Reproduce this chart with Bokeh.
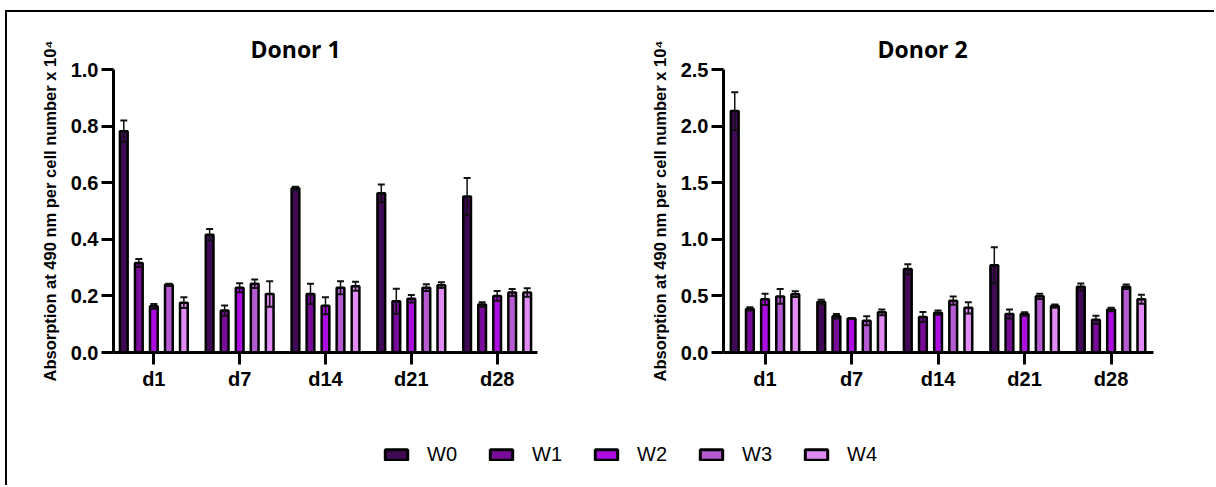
from bokeh.plotting import figure
from bokeh.models import (ColumnDataSource, Range1d, FixedTicker, Whisker, TeeHead,
                          Title, Legend, LegendItem)
from bokeh.layouts import column, row
from bokeh.embed import file_html
from bokeh.resources import INLINE

# ---------------- data ----------------
days = ["d1", "d7", "d14", "d21", "d28"]
weeks = ["W0", "W1", "W2", "W3", "W4"]
colors = ["#410a55", "#780c98", "#ad0de0", "#b65ad2", "#e08cf4"]

# Donor 1: mean per week over days
d1_W0 = [0.782, 0.416, 0.580, 0.563, 0.551]
d1_W1 = [0.316, 0.148, 0.207, 0.181, 0.170]
d1_W2 = [0.163, 0.229, 0.165, 0.190, 0.200]
d1_W3 = [0.239, 0.243, 0.229, 0.229, 0.212]
d1_W4 = [0.176, 0.207, 0.234, 0.238, 0.212]
d1_E0 = [0.038, 0.020, 0.006, 0.031, 0.066]
d1_E1 = [0.014, 0.018, 0.036, 0.044, 0.008]
d1_E2 = [0.008, 0.016, 0.030, 0.013, 0.017]
d1_E3 = [0.004, 0.015, 0.023, 0.012, 0.012]
d1_E4 = [0.019, 0.045, 0.016, 0.010, 0.015]

# Donor 2
d2_W0 = [2.133, 0.446, 0.737, 0.770, 0.580]
d2_W1 = [0.385, 0.320, 0.314, 0.340, 0.290]
d2_W2 = [0.470, 0.300, 0.352, 0.340, 0.380]
d2_W3 = [0.495, 0.280, 0.458, 0.496, 0.580]
d2_W4 = [0.515, 0.355, 0.395, 0.410, 0.470]
d2_E0 = [0.167, 0.020, 0.043, 0.160, 0.030]
d2_E1 = [0.015, 0.020, 0.044, 0.040, 0.035]
d2_E2 = [0.050, 0.005, 0.018, 0.015, 0.015]
d2_E3 = [0.065, 0.040, 0.037, 0.024, 0.020]
d2_E4 = [0.025, 0.025, 0.050, 0.015, 0.040]

d1_ticks = [0.0, 0.2, 0.4, 0.6, 0.8, 1.0]
d2_ticks = [0.0, 0.5, 1.0, 1.5, 2.0, 2.5]

ylabel = "Absorption at 490 nm per cell number x 10\u2074"

DODGE = 0.175
BAR_W = 0.09


def make_plot(title, means, errs, ymax, yticks, xr, mb_left, frame_w, width,
              mb_bottom, title_off):
    p = figure(width=width, height=400,
               x_range=Range1d(*xr), y_range=Range1d(0, ymax),
               output_backend="svg", toolbar_location=None,
               min_border_left=mb_left, min_border_right=width - mb_left - frame_w,
               min_border_top=57, min_border_bottom=mb_bottom)
    p.outline_line_color = None
    p.grid.visible = False
    p.background_fill_color = "white"
    p.border_fill_color = "white"

    for j, (m, e) in enumerate(zip(means, errs)):
        xs = [i + (j - 2) * DODGE for i in range(len(days))]
        src = ColumnDataSource(dict(x=xs, top=m,
                                    upper=[a + b for a, b in zip(m, e)],
                                    lower=[a - b for a, b in zip(m, e)]))
        p.vbar(x="x", top="top", width=BAR_W, bottom=0, source=src,
               fill_color=colors[j], line_color="black", line_width=2.5)
        w = Whisker(base="x", upper="upper", lower="lower", source=src,
                    line_color="#111111", line_width=1.5, level="overlay",
                    upper_head=TeeHead(size=7, line_width=2, line_color="#111111"),
                    lower_head=TeeHead(size=7, line_width=2, line_color="#111111"))
        p.add_layout(w)

    t = Title(text=title, align="left", offset=title_off, standoff=10,
              text_font="Open Sans", text_font_size="23px", text_font_style="bold",
              text_color="black")
    p.add_layout(t, "above")

    ya = p.yaxis[0]
    ya.ticker = FixedTicker(ticks=yticks)
    ya.major_label_overrides = {v: f"{v:.1f}" for v in yticks}
    ya.minor_tick_line_color = None
    ya.axis_line_width = 3
    ya.major_tick_line_width = 3
    ya.major_tick_out = 12
    ya.major_tick_in = 0
    ya.major_label_text_font = "Liberation Sans"
    ya.major_label_text_font_size = "20px"
    ya.major_label_text_font_style = "bold"
    ya.major_label_text_color = "black"
    ya.major_label_standoff = 3
    ya.axis_label = ylabel
    ya.axis_label_text_font = "Liberation Sans"
    ya.axis_label_text_font_size = "16.5px"
    ya.axis_label_text_font_style = "bold"
    ya.axis_label_text_color = "black"
    ya.axis_label_standoff = 9

    xa = p.xaxis[0]
    xa.ticker = FixedTicker(ticks=list(range(len(days))))
    xa.major_label_overrides = {i: d for i, d in enumerate(days)}
    xa.minor_tick_line_color = None
    xa.axis_line_width = 3
    xa.major_tick_line_width = 3
    xa.major_tick_out = 12
    xa.major_tick_in = 0
    xa.major_label_text_font = "Liberation Sans"
    xa.major_label_text_font_size = "20px"
    xa.major_label_text_font_style = "bold"
    xa.major_label_text_color = "black"
    xa.major_label_standoff = 3
    return p


p1 = make_plot("Donor 1", [d1_W0, d1_W1, d1_W2, d1_W3, d1_W4],
               [d1_E0, d1_E1, d1_E2, d1_E3, d1_E4], 1.0, d1_ticks,
               (-0.47, 4.47), 106, 424, 600, 60, 137)
p2 = make_plot("Donor 2", [d2_W0, d2_W1, d2_W2, d2_W3, d2_W4],
               [d2_E0, d2_E1, d2_E2, d2_E3, d2_E4], 2.5, d2_ticks,
               (-0.48, 4.49), 116, 430, 607, 59, 154)

# legend strip (key renderers are hidden; only their legend swatches show)
pl = figure(width=1207, height=73, x_range=Range1d(0, 1), y_range=Range1d(0, 1),
            output_backend="svg", toolbar_location=None,
            min_border=0)
pl.axis.visible = False
pl.grid.visible = False
pl.outline_line_color = None
items = []
for j, wk in enumerate(weeks):
    r = pl.vbar(x=[0.5], top=[0.5], width=0.01, fill_color=colors[j],
                line_color="black", line_width=3)
    r.visible = False
    items.append(LegendItem(label=wk, renderers=[r]))
leg = Legend(items=items, orientation="horizontal", location=(375, 19),
             glyph_width=28, glyph_height=13, label_standoff=17, spacing=30,
             padding=0, margin=0, border_line_alpha=0, background_fill_alpha=0,
             label_text_font="Liberation Sans", label_text_font_size="20px",
             label_text_color="black", label_height=16)
pl.add_layout(leg)

layout = column(row(p1, p2), pl,
                styles={"border-left": "2px solid black", "border-top": "2px solid black",
                        "margin-left": "5px", "margin-top": "10px"})

open("out.html", "w").write(file_html(layout, INLINE))
